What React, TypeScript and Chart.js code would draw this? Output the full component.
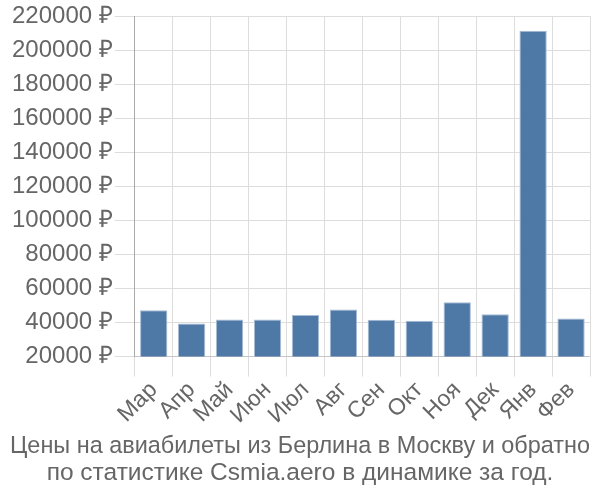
import React, { useEffect, useRef } from "react";
import { Chart, registerables } from "chart.js";

Chart.register(...registerables);

const months = ["Мар", "Апр", "Май", "Июн", "Июл", "Авг", "Сен", "Окт", "Ноя", "Дек", "Янв", "Фев"];
const prices = [47300, 39400, 41800, 41800, 44500, 47600, 41600, 41000, 52000, 44900, 211500, 42400];
const titleLines = [
  "Цены на авиабилеты из Берлина в Москву и обратно",
  "по статистике Csmia.aero в динамике за год.",
];

const FONT = "'Liberation Sans', Arial, sans-serif";

export default function App() {
  const ref = useRef<HTMLCanvasElement>(null);
  useEffect(() => {
    document.body.style.margin = "0";
    const chart = new Chart(ref.current!, {
      type: "bar",
      data: {
        labels: months,
        datasets: [
          {
            data: prices,
            backgroundColor: "#4e79a7",
            borderColor: "#a8bcd4",
            borderWidth: 1,
            categoryPercentage: 0.8,
            barPercentage: 0.9,
          },
        ],
      },
      options: {
        animation: false,
        responsive: false,
        layout: { padding: { left: 10, right: 10, top: 4, bottom: 0 } },
        plugins: {
          legend: { display: false },
          tooltip: { enabled: false },
          title: {
            display: true,
            position: "bottom",
            text: titleLines,
            color: "#666",
            font: { family: FONT, size: 24.5, weight: "normal", lineHeight: 1.1 },
            padding: { top: 4, bottom: 13 },
          },
        },
        scales: {
          x: {
            grid: { color: "#dddddd", offset: true, tickLength: 20 },
            ticks: {
              color: "#666",
              font: { family: FONT, size: 23 },
              maxRotation: 45,
              minRotation: 45,
              autoSkip: false,
              padding: 0,
            },
          },
          y: {
            min: 20000,
            max: 220000,
            grid: { color: "#dddddd", tickLength: 20 },
            border: { color: "#aaaaaa" },
            ticks: {
              stepSize: 20000,
              color: "#666",
              font: { family: FONT, size: 24 },
              padding: 2,
              callback: (v: any) => v + " ₽",
            },
          },
        },
      },
    });
    return () => chart.destroy();
  }, []);
  return (
    <div style={{ width: 600, height: 500 }}>
      <canvas ref={ref} width={600} height={500} />
    </div>
  );
}
